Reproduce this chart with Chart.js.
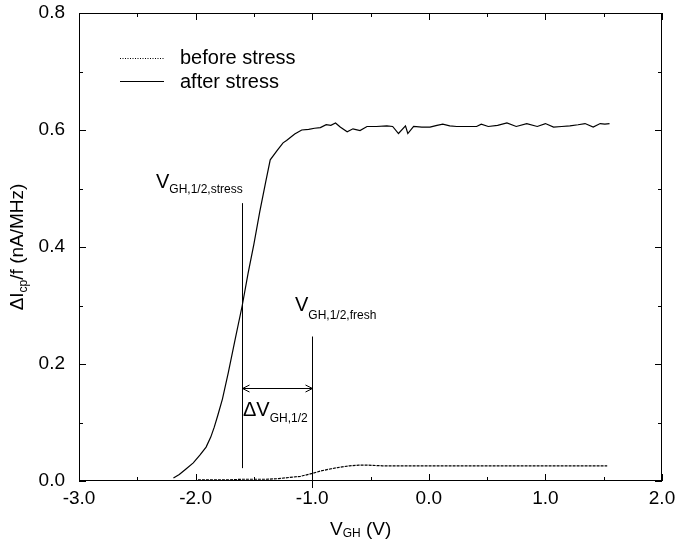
<!DOCTYPE html>
<html><head><meta charset="utf-8">
<script src="https://cdn.jsdelivr.net/npm/chart.js@4/dist/chart.umd.min.js"></script>
<style>html,body{margin:0;padding:0;background:#fff;} canvas{display:block;}</style>
</head><body>
<canvas id="c" width="676" height="545"></canvas>
<script>
// ---- data ----
const seriesNames = ['before stress', 'after stress'];
const afterV = [-2.19,-2.14,-2.085,-2.02,-1.96,-1.91,-1.87,-1.84,-1.81,-1.77,-1.72,-1.66,-1.60,-1.55,-1.50,-1.45,-1.40,-1.36,-1.30,-1.25,-1.22,-1.15,-1.09,-1.03,-0.98,-0.93,-0.88,-0.84,-0.80,-0.76,-0.70,-0.65,-0.59,-0.53,-0.45,-0.36,-0.31,-0.26,-0.20,-0.18,-0.13,-0.06,0.01,0.07,0.12,0.18,0.24,0.33,0.41,0.45,0.51,0.59,0.67,0.75,0.84,0.93,1.00,1.07,1.14,1.21,1.28,1.34,1.41,1.47,1.51,1.55];
const afterI = [0.005,0.011,0.020,0.031,0.045,0.058,0.075,0.092,0.112,0.140,0.185,0.243,0.300,0.355,0.405,0.460,0.510,0.549,0.565,0.578,0.582,0.593,0.600,0.601,0.603,0.604,0.609,0.608,0.612,0.605,0.597,0.602,0.599,0.606,0.606,0.607,0.606,0.594,0.607,0.594,0.606,0.605,0.605,0.608,0.610,0.607,0.606,0.606,0.606,0.610,0.606,0.608,0.612,0.606,0.611,0.606,0.611,0.605,0.606,0.607,0.609,0.611,0.605,0.611,0.610,0.611];
const beforeV = [-1.98,-1.85,-1.70,-1.60,-1.50,-1.40,-1.29,-1.20,-1.10,-1.00,-0.93,-0.86,-0.78,-0.68,-0.60,-0.52,-0.40,-0.30,-0.20,-0.10,0.00,0.10,0.20,0.30,0.40,0.50,0.60,0.70,0.80,0.90,1.00,1.10,1.20,1.30,1.40,1.53];
const beforeI = [0.002,0.002,0.002,0.003,0.003,0.003,0.004,0.006,0.008,0.013,0.017,0.020,0.023,0.026,0.027,0.027,0.026,0.026,0.026,0.026,0.026,0.026,0.026,0.026,0.026,0.026,0.026,0.026,0.026,0.026,0.026,0.026,0.026,0.026,0.026,0.026];
const xTickValues = [-3, -2, -1, 0, 1, 2];
const xTickLabels = ['-3.0', '-2.0', '-1.0', '0.0', '1.0', '2.0'];
const yTickValues = [0, 0.2, 0.4, 0.6, 0.8];
const yTickLabels = ['0.0', '0.2', '0.4', '0.6', '0.8'];
const vHalfStress = -1.6;
const vHalfFresh = -1.0;
const stressLineRange = [0.022, 0.475];
const freshLineRange = [-0.012, 0.247];
const arrowLevel = 0.159;

const FONT = '"Liberation Sans", Arial, Helvetica, sans-serif';

function toPoints(xs, ys) { return xs.map((x, i) => ({x: x, y: ys[i]})); }
function labelFor(values, labels, v) {
  const i = values.findIndex(t => Math.abs(t - v) < 1e-6);
  return i >= 0 ? labels[i] : '';
}

function drawSub(ctx, x, y, main, sub, mainSize, subSize, subDrop, after) {
  ctx.font = mainSize + 'px ' + FONT;
  ctx.fillText(main, x, y);
  let w = ctx.measureText(main).width;
  ctx.font = subSize + 'px ' + FONT;
  ctx.fillText(sub, x + w, y + subDrop);
  w += ctx.measureText(sub).width;
  if (after) {
    ctx.font = mainSize + 'px ' + FONT;
    ctx.fillText(after, x + w, y);
    w += ctx.measureText(after).width;
  }
  return w;
}

const decor = {
  id: 'decor',
  afterDraw(chart) {
    const ctx = chart.ctx;
    const xs = chart.scales.x, ys = chart.scales.y;
    const a = chart.chartArea;
    ctx.save();
    ctx.strokeStyle = '#000';
    ctx.fillStyle = '#000';
    ctx.lineWidth = 1;
    // frame
    ctx.strokeRect(a.left + 0.5, a.top + 0.5, a.right - a.left - 1, a.bottom - a.top - 1);
    // ticks (inward, all sides)
    ctx.beginPath();
    for (let v = xs.min; v <= xs.max + 1e-9; v += 0.5) {
      const px = Math.round(xs.getPixelForValue(v)) + 0.5;
      const major = Math.abs(v - Math.round(v)) < 1e-6;
      const len = major ? 7 : 4;
      ctx.moveTo(px, a.bottom); ctx.lineTo(px, a.bottom - len);
      ctx.moveTo(px, a.top); ctx.lineTo(px, a.top + len);
    }
    for (let k = 0; k <= 8; k++) {
      const v = k * 0.1;
      const py = Math.round(ys.getPixelForValue(v)) + 0.5;
      const len = (k % 2 === 0) ? 7 : 4;
      ctx.moveTo(a.left, py); ctx.lineTo(a.left + len, py);
      ctx.moveTo(a.right, py); ctx.lineTo(a.right - len, py);
    }
    ctx.stroke();

    // annotation lines
    const sx = Math.round(xs.getPixelForValue(vHalfStress)) + 0.5;
    const fx = Math.round(xs.getPixelForValue(vHalfFresh)) + 0.5;
    ctx.beginPath();
    ctx.moveTo(sx, ys.getPixelForValue(stressLineRange[0]));
    ctx.lineTo(sx, ys.getPixelForValue(stressLineRange[1]));
    ctx.moveTo(fx, ys.getPixelForValue(freshLineRange[0]));
    ctx.lineTo(fx, ys.getPixelForValue(freshLineRange[1]));
    ctx.stroke();
    // arrow
    const ay = Math.round(ys.getPixelForValue(arrowLevel)) + 0.5;
    ctx.beginPath();
    ctx.moveTo(sx, ay); ctx.lineTo(fx, ay);
    ctx.moveTo(sx + 7, ay - 3.5); ctx.lineTo(sx, ay); ctx.lineTo(sx + 7, ay + 3.5);
    ctx.moveTo(fx - 7, ay - 3.5); ctx.lineTo(fx, ay); ctx.lineTo(fx - 7, ay + 3.5);
    ctx.stroke();

    // annotation texts
    ctx.textBaseline = 'alphabetic';
    ctx.textAlign = 'left';
    drawSub(ctx, 156, 188, 'V', 'GH,1/2,stress', 20, 12, 5);
    drawSub(ctx, 295, 311, 'V', 'GH,1/2,fresh', 20, 12, 8);
    drawSub(ctx, 243, 416, '\u0394V', 'GH,1/2', 20, 12, 6);

    // legend
    const ds = chart.data.datasets;
    const legY = [58, 81];
    const legTextY = [64, 88];
    ds.forEach((d, i) => {
      ctx.save();
      ctx.lineWidth = 1;
      ctx.setLineDash(i === 0 ? [1, 1.5] : []);
      ctx.beginPath();
      ctx.moveTo(120, legY[i] + 0.5); ctx.lineTo(164, legY[i] + 0.5);
      ctx.stroke();
      ctx.restore();
      ctx.font = '20px ' + FONT;
      ctx.fillText(d.label, 180, legTextY[i]);
    });

    // axis titles
    drawSub(ctx, 330, 535, 'V', 'GH', 19, 12, 2, ' (V)');
    ctx.save();
    ctx.translate(23, 247);
    ctx.rotate(-Math.PI / 2);
    ctx.font = '19px ' + FONT;
    const w1 = ctx.measureText('\u0394I').width;
    ctx.font = '12px ' + FONT;
    const w2 = ctx.measureText('cp').width;
    ctx.font = '19px ' + FONT;
    const w3 = ctx.measureText('/f (nA/MHz)').width;
    const tot = w1 + w2 + w3;
    drawSub(ctx, -tot / 2, 0, '\u0394I', 'cp', 19, 12, 4, '/f (nA/MHz)');
    ctx.restore();
    ctx.restore();
  }
};

new Chart(document.getElementById('c'), {
  type: 'scatter',
  data: {
    datasets: [
      { label: seriesNames[0], data: toPoints(beforeV, beforeI), showLine: true,
        borderColor: '#000', borderWidth: 1.2, borderDash: [3, 1], pointRadius: 0, tension: 0 },
      { label: seriesNames[1], data: toPoints(afterV, afterI), showLine: true,
        borderColor: '#000', borderWidth: 1.2, pointRadius: 0, tension: 0 }
    ]
  },
  options: {
    responsive: false,
    animation: false,
    devicePixelRatio: 1,
    layout: { padding: { left: 0, right: 14, top: 13, bottom: 0 } },
    plugins: { legend: { display: false }, tooltip: { enabled: false } },
    scales: {
      x: {
        type: 'linear', min: -3, max: 2,
        afterBuildTicks: s => { s.ticks = xTickValues.map(v => ({value: v})); },
        afterFit: s => { s.height = 64; s.paddingLeft = 0; s.paddingRight = 0; },
        grid: { display: false, drawTicks: false },
        border: { display: false },
        ticks: { color: '#000', font: { family: FONT, size: 19 }, padding: 6,
                 maxRotation: 0, autoSkip: false,
                 callback: v => labelFor(xTickValues, xTickLabels, v) }
      },
      y: {
        type: 'linear', min: 0, max: 0.8,
        afterBuildTicks: s => { s.ticks = yTickValues.map(v => ({value: v})); },
        afterFit: s => { s.width = 79; s.paddingTop = 0; s.paddingBottom = 0; },
        grid: { display: false, drawTicks: false },
        border: { display: false },
        ticks: { color: '#000', font: { family: FONT, size: 19 }, padding: 14,
                 callback: v => labelFor(yTickValues, yTickLabels, v) }
      }
    }
  },
  plugins: [decor]
});
</script>
</body></html>
